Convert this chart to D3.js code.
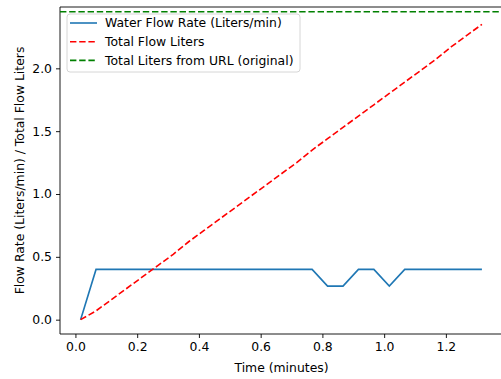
<!DOCTYPE html>
<html>
<head>
<meta charset="utf-8">
<script src="https://cdn.jsdelivr.net/npm/d3@7"></script>
<style>
  body { margin: 0; background: #fff; }
  text { font-family: "DejaVu Sans", sans-serif; }
</style>
</head>
<body>
<div id="chart"></div>
<script>
// waktu dalam menit (tiap 3 detik)
var times = [0.0167, 0.0667, 0.1167, 0.1667, 0.2167, 0.2667, 0.3167, 0.3667, 0.4167,
    0.4667, 0.5167, 0.5667, 0.6167, 0.6667, 0.7167, 0.7667, 0.8167, 0.8667, 0.9167,
    0.9667, 1.0167, 1.0667, 1.1167, 1.1667, 1.2167, 1.2667, 1.3167];
var flowRate = [0, 0.4, 0.4, 0.4, 0.4, 0.4, 0.4, 0.4, 0.4, 0.4, 0.4, 0.4, 0.4, 0.4, 0.4,
    0.4, 0.267, 0.267, 0.4, 0.4, 0.267, 0.4, 0.4, 0.4, 0.4, 0.4, 0.4];
var totalLiters = [0, 0.07, 0.16, 0.25, 0.34, 0.43, 0.52, 0.62, 0.71, 0.80, 0.89, 0.98,
    1.07, 1.16, 1.25, 1.35, 1.44, 1.53, 1.62, 1.71, 1.80, 1.89, 1.98, 2.07, 2.17, 2.26, 2.35];
var urlTotal = 2.45;
var xTicks = [0.0, 0.2, 0.4, 0.6, 0.8, 1.0, 1.2];
var yTicks = [0.0, 0.5, 1.0, 1.5, 2.0];
var legendLabels = ["Water Flow Rate (Liters/min)", "Total Flow Liters", "Total Liters from URL (original)"];

var W = 501, H = 379;
var pLeft = 60, pRight = 503, pTop = 7, pBottom = 334;
var fs = 12.4;

var svg = d3.select("#chart").append("svg")
    .attr("width", W).attr("height", H);

var x = d3.scaleLinear().domain([-0.05, 1.385]).range([pLeft, pRight]);
var y = d3.scaleLinear().domain([-0.114, 2.488]).range([pBottom, pTop]);

var dash = "6.4,2.8";

// sumbu x
var xAxis = svg.append("g")
    .attr("transform", "translate(0," + pBottom + ")")
    .call(d3.axisBottom(x).tickValues(xTicks).tickFormat(d3.format(".1f")).tickSize(4).tickPadding(4));
// sumbu y
var yAxis = svg.append("g")
    .attr("transform", "translate(" + pLeft + ",0)")
    .call(d3.axisLeft(y).tickValues(yTicks).tickFormat(d3.format(".1f")).tickSize(4).tickPadding(4));

[xAxis, yAxis].forEach(function(a) {
    a.select(".domain").remove();
    a.selectAll("line").attr("stroke", "#000").attr("stroke-width", 0.9);
    a.selectAll("text").attr("font-size", fs).attr("fill", "#000")
        .style("font-family", "DejaVu Sans, sans-serif");
});

// garis tepi (spines)
svg.append("line").attr("x1", pLeft).attr("x2", pLeft).attr("y1", pTop).attr("y2", pBottom)
    .attr("stroke", "#000").attr("stroke-width", 0.9);
svg.append("line").attr("x1", pLeft).attr("x2", pRight).attr("y1", pBottom).attr("y2", pBottom)
    .attr("stroke", "#000").attr("stroke-width", 0.9);
svg.append("line").attr("x1", pLeft).attr("x2", pRight).attr("y1", pTop).attr("y2", pTop)
    .attr("stroke", "#000").attr("stroke-width", 0.9);

var line = d3.line()
    .x(function(d) { return x(d[0]); })
    .y(function(d) { return y(d[1]); });

// laju aliran
svg.append("path")
    .datum(times.map(function(t, i) { return [t, flowRate[i]]; }))
    .attr("d", line)
    .attr("fill", "none").attr("stroke", "#1f77b4").attr("stroke-width", 1.6);

// total liter
svg.append("path")
    .datum(times.map(function(t, i) { return [t, totalLiters[i]]; }))
    .attr("d", line)
    .attr("fill", "none").attr("stroke", "#ff0000").attr("stroke-width", 1.6)
    .attr("stroke-dasharray", dash);

// garis horizontal total dari URL
svg.append("line")
    .attr("x1", pLeft).attr("x2", pRight)
    .attr("y1", y(urlTotal)).attr("y2", y(urlTotal))
    .attr("stroke", "#008000").attr("stroke-width", 1.6)
    .attr("stroke-dasharray", dash);

// legenda
var lg = svg.append("g");
lg.append("rect")
    .attr("x", 67).attr("y", 14).attr("width", 233).attr("height", 58)
    .attr("rx", 3).attr("fill", "#fff").attr("fill-opacity", 0.8)
    .attr("stroke", "#cccccc").attr("stroke-width", 0.8);
var styles = [
    { color: "#1f77b4", dash: null },
    { color: "#ff0000", dash: dash },
    { color: "#008000", dash: dash }
];
legendLabels.forEach(function(lab, i) {
    var yy = 23 + i * 18.7;
    lg.append("line")
        .attr("x1", 70).attr("x2", 97).attr("y1", yy).attr("y2", yy)
        .attr("stroke", styles[i].color).attr("stroke-width", 1.6)
        .attr("stroke-dasharray", styles[i].dash);
    lg.append("text")
        .attr("x", 105).attr("y", yy).attr("dy", "0.35em")
        .attr("font-size", fs).text(lab);
});

// label sumbu
svg.append("text")
    .attr("x", (pLeft + pRight) / 2).attr("y", 372)
    .attr("text-anchor", "middle").attr("font-size", fs)
    .text("Time (minutes)");
svg.append("text")
    .attr("transform", "translate(24," + ((pTop + pBottom) / 2) + ") rotate(-90)")
    .attr("text-anchor", "middle").attr("font-size", fs)
    .text("Flow Rate (Liters/min) / Total Flow Liters");
</script>
</body>
</html>
